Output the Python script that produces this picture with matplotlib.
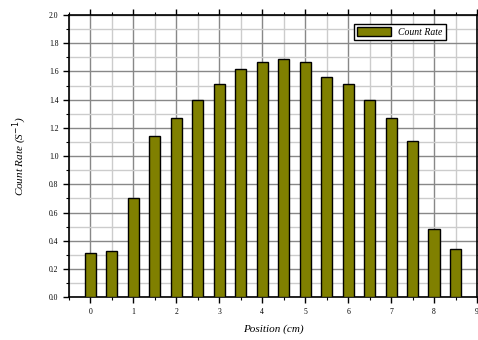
import numpy as np
import matplotlib
matplotlib.use("Agg")
import matplotlib.pyplot as plt
from matplotlib.ticker import MultipleLocator

# data
positions = [0, 0.5, 1, 1.5, 2, 2.5, 3, 3.5, 4, 4.5, 5, 5.5, 6, 6.5, 7, 7.5, 8, 8.5]
count_rate = [0.31, 0.33, 0.70, 1.14, 1.27, 1.40, 1.51, 1.62, 1.67, 1.69,
              1.67, 1.56, 1.51, 1.40, 1.27, 1.11, 0.48, 0.34]
x_ticks = [0, 1, 2, 3, 4, 5, 6, 7, 8, 9]
y_ticks = [0.0, 0.2, 0.4, 0.6, 0.8, 1.0, 1.2, 1.4, 1.6, 1.8, 2.0]

plt.rcParams['font.family'] = ['Liberation Serif', 'DejaVu Serif']

fig = plt.figure(figsize=(4.78, 3.4), dpi=100)
ax = fig.add_axes([0.144, 0.126, 0.854, 0.83])

ax.bar(positions, count_rate, width=0.26, color='#808000',
       edgecolor='black', linewidth=1.0, zorder=3, label='Count Rate')

ax.set_xlim(-0.5, 9)
ax.set_ylim(0, 2.0)
ax.set_xticks(x_ticks)
ax.set_yticks(y_ticks)
ax.set_yticklabels([f"{v:.1f}" for v in y_ticks])
ax.xaxis.set_minor_locator(MultipleLocator(0.5))
ax.yaxis.set_minor_locator(MultipleLocator(0.1))

ax.grid(which='major', color='#888888', linewidth=1.0, zorder=0)
ax.grid(which='minor', color='#cccccc', linewidth=1.0, zorder=0)

ax.tick_params(which='major', direction='out', length=4, width=1.0,
               labelsize=5.5, top=True, right=True)
ax.tick_params(which='minor', direction='out', length=2, width=0.8,
               top=True, right=True)
for s in ax.spines.values():
    s.set_linewidth(1.2)

ax.set_xlabel('Position (cm)', fontsize=8, style='italic', labelpad=6)
ax.set_ylabel('Count Rate (S$^{-1}$)', fontsize=8, style='italic', labelpad=14)

leg = ax.legend(loc='upper right', prop={'style': 'italic', 'size': 7},
                frameon=True, fancybox=False, edgecolor='black',
                handlelength=3.5, handleheight=1.0, borderpad=0.3,
                bbox_to_anchor=(0.935, 0.985))
leg.get_frame().set_linewidth(1.0)
leg.get_frame().set_alpha(1.0)

fig.savefig('out.png', dpi=100)
